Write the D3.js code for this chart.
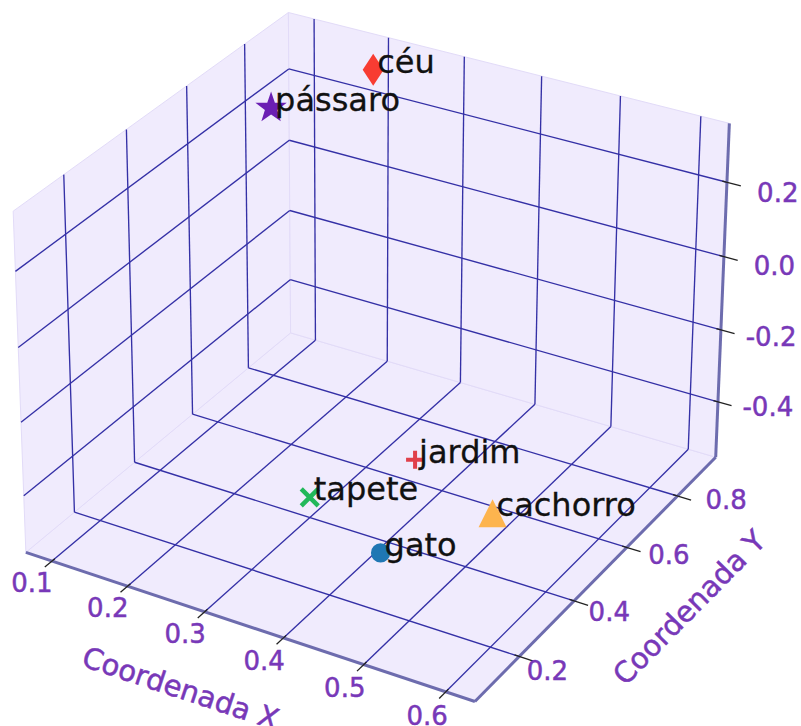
<!DOCTYPE html>
<html>
<head>
<meta charset="utf-8">
<script src="https://cdn.jsdelivr.net/npm/d3@7"></script>
<style>
  html, body { margin: 0; padding: 0; background: #ffffff; }
  svg { display: block; }
</style>
</head>
<body>
<svg id="chart" width="801" height="726"></svg>
<script>
// ---- data -------------------------------------------------------------
const words   = ["gato", "cachorro", "tapete", "jardim", "céu", "pássaro"];
const xValues = [0.5, 0.6, 0.3, 0.4, 0.2, 0.1];
const yValues = [0.1, 0.2, 0.4, 0.5, 0.9, 0.8];
const zValues = [-0.3, -0.2, -0.5, -0.4, 0.3, 0.2];
const markerShapes = ["circle", "triangle", "x", "plus", "thinDiamond", "star"];
const markerColors = ["#1f77b4", "#fdb44e", "#22b85a", "#e0404a", "#f83c32", "#6b1fb3"];

const xTicks = [0.1, 0.2, 0.3, 0.4, 0.5, 0.6];
const yTicks = [0.2, 0.4, 0.6, 0.8];
const zTicks = [-0.4, -0.2, 0.0, 0.2];
const xTickLabels = ["0.1", "0.2", "0.3", "0.4", "0.5", "0.6"];
const yTickLabels = ["0.2", "0.4", "0.6", "0.8"];
const zTickLabels = ["-0.4", "-0.2", "0.0", "0.2"];
const xAxisTitle = "Coordenada X";
const yAxisTitle = "Coordenada Y";

// ---- layout -----------------------------------------------------------
const PAD = 0.07;              // pane padding around the data range
const PURPLE = "#7838b8";
const GRID = "#3430a6";
const AXIS = "#6d6cae";
const PANE = "#f0ebfd";
const FONT = "'DejaVu Sans', 'Noto Sans', sans-serif";

// Where the box corners (in unit cube coordinates u,v,w) sit on the canvas.
const boxAnchors = [
  [0, 0, 0, 25, 553],
  [1, 0, 0, 475, 701],
  [1, 1, 0, 715, 458],
  [0, 1, 0, 292, 332],
  [0, 0, 1, 14, 211],
  [1, 1, 1, 730, 123],
  [0, 1, 1, 287, 13]
];

// Fit a perspective camera (3x4 projective matrix) to the box anchors.
function fitCamera(anchors) {
  const S = 400;
  const rows = [], rhs = [];
  anchors.forEach(([u, v, w, px, py]) => {
    const X = (px - S) / S, Y = (py - S) / S;
    rows.push([u, v, w, 1, 0, 0, 0, 0, -X * u, -X * v, -X * w]); rhs.push(X);
    rows.push([0, 0, 0, 0, u, v, w, 1, -Y * u, -Y * v, -Y * w]); rhs.push(Y);
  });
  const n = 11;
  const M = Array.from({ length: n }, () => new Array(n + 1).fill(0));
  rows.forEach((r, k) => {
    for (let i = 0; i < n; i++) {
      for (let j = 0; j < n; j++) M[i][j] += r[i] * r[j];
      M[i][n] += r[i] * rhs[k];
    }
  });
  for (let c = 0; c < n; c++) {
    let piv = c;
    for (let r = c + 1; r < n; r++) if (Math.abs(M[r][c]) > Math.abs(M[piv][c])) piv = r;
    [M[c], M[piv]] = [M[piv], M[c]];
    for (let r = 0; r < n; r++) {
      if (r === c) continue;
      const f = M[r][c] / M[c][c];
      for (let k = c; k <= n; k++) M[r][k] -= f * M[c][k];
    }
  }
  const p = M.map((row, i) => row[n] / row[i]);
  return (u, v, w) => {
    const d = p[8] * u + p[9] * v + p[10] * w + 1;
    return [
      S + S * (p[0] * u + p[1] * v + p[2] * w + p[3]) / d,
      S + S * (p[4] * u + p[5] * v + p[6] * w + p[7]) / d
    ];
  };
}
const project = fitCamera(boxAnchors);

function paneDomain(values) {
  const [lo, hi] = d3.extent(values);
  const r = hi - lo;
  return [lo - r * PAD, hi + r * PAD];
}
const sx = d3.scaleLinear().domain(paneDomain(xValues)).range([0, 1]);
const sy = d3.scaleLinear().domain(paneDomain(yValues)).range([0, 1]);
const sz = d3.scaleLinear().domain(paneDomain(zValues)).range([0, 1]);

const svg = d3.select("#chart");
const line = d3.line();
const seg = (a, b) => line([project(...a), project(...b)]);
const poly = pts => line(pts.map(p => project(...p))) + "Z";

// ---- panes ------------------------------------------------------------
const panes = [
  [[0, 0, 0], [1, 0, 0], [1, 1, 0], [0, 1, 0]],   // floor
  [[0, 0, 0], [0, 1, 0], [0, 1, 1], [0, 0, 1]],   // left wall
  [[0, 1, 0], [1, 1, 0], [1, 1, 1], [0, 1, 1]]    // back wall
];
svg.append("g").selectAll("path").data(panes).join("path")
  .attr("d", poly)
  .attr("fill", PANE)
  .attr("stroke", "#e2dbf8")
  .attr("stroke-width", 1);

// ---- grid -------------------------------------------------------------
const gridSegs = [];
xTicks.forEach(t => {
  const u = sx(t);
  gridSegs.push([[u, 0, 0], [u, 1, 0]]);
  gridSegs.push([[u, 1, 0], [u, 1, 1]]);
});
yTicks.forEach(t => {
  const v = sy(t);
  gridSegs.push([[0, v, 0], [1, v, 0]]);
  gridSegs.push([[0, v, 0], [0, v, 1]]);
});
zTicks.forEach(t => {
  const w = sz(t);
  gridSegs.push([[0, 0, w], [0, 1, w]]);
  gridSegs.push([[0, 1, w], [1, 1, w]]);
});
svg.append("g").selectAll("path").data(gridSegs).join("path")
  .attr("d", s => seg(s[0], s[1]))
  .attr("fill", "none")
  .attr("stroke", GRID)
  .attr("stroke-width", 1.35);

// ---- axis lines -------------------------------------------------------
const axisSegs = [
  [[0, 0, 0], [1, 0, 0]],
  [[1, 0, 0], [1, 1, 0]],
  [[1, 1, 0], [1, 1, 1]]
];
svg.append("g").selectAll("path").data(axisSegs).join("path")
  .attr("d", s => seg(s[0], s[1]))
  .attr("fill", "none")
  .attr("stroke", AXIS)
  .attr("stroke-width", 3)
  .attr("stroke-linecap", "butt");

// ---- ticks ------------------------------------------------------------
const tickG = svg.append("g").attr("stroke", "#222").attr("stroke-width", 1.3);
xTicks.forEach(t => tickG.append("path").attr("d", seg([sx(t), 0.01, 0], [sx(t), -0.025, 0])));
yTicks.forEach(t => tickG.append("path").attr("d", seg([0.99, sy(t), 0], [1.03, sy(t), 0])));
zTicks.forEach(t => tickG.append("path").attr("d", seg([0.99, 1, sz(t)], [1.03, 1, sz(t)])));

// ---- tick labels ------------------------------------------------------
const labelG = svg.append("g")
  .attr("fill", PURPLE)
  .attr("stroke", PURPLE)
  .attr("stroke-width", 0.5)
  .attr("font-family", FONT)
  .attr("font-size", 26)
  .attr("text-anchor", "middle")
  .attr("dominant-baseline", "central");

function putLabel(text, pos) {
  const [px, py] = project(...pos);
  labelG.append("text").attr("x", px).attr("y", py).text(text);
}
xTicks.forEach((t, i) => putLabel(xTickLabels[i], [sx(t), -0.07, -0.015]));
// y labels lean slightly outward and upward toward the back of the box
yTicks.forEach((t, i) => {
  const v = sy(t), lean = v - sy(yTicks[0]);
  putLabel(yTickLabels[i], [1.06 + 0.07 * lean, v, -0.015 + 0.073 * lean]);
});
zTicks.forEach((t, i) => putLabel(zTickLabels[i], [1.10, 1.02, 0.5 + (sz(t) - 0.5) * 0.97]));

// ---- axis titles ------------------------------------------------------
function axisTitle(text, pos, from, to) {
  const [px, py] = project(...pos);
  const a = project(...from), b = project(...to);
  const ang = Math.atan2(b[1] - a[1], b[0] - a[0]) * 180 / Math.PI;
  labelG.append("text")
    .attr("font-size", 29)
    .attr("transform", `translate(${px},${py}) rotate(${ang})`)
    .text(text);
}
axisTitle(xAxisTitle, [0.51, -0.24, 0], [0, 0, 0], [1, 0, 0]);
axisTitle(yAxisTitle, [1.19, 0.5, -0.018], [1, 0, 0], [1, 1, 0]);

// ---- markers ----------------------------------------------------------
function starPath(R, r) {
  const p = d3.path();
  for (let k = 0; k < 10; k++) {
    const rad = k % 2 === 0 ? R : r;
    const a = -Math.PI / 2 + k * Math.PI / 5;
    const x = rad * Math.cos(a), y = rad * Math.sin(a);
    k === 0 ? p.moveTo(x, y) : p.lineTo(x, y);
  }
  p.closePath();
  return p.toString();
}
const markerDefs = {
  circle:      { d: d3.symbol(d3.symbolCircle, 290)(), fill: true },
  triangle:    { d: "M0,-14L14,14L-14,14Z", fill: true },
  thinDiamond: { d: "M0,-16L10.5,0L0,16L-10.5,0Z", fill: true },
  star:        { d: starPath(16.5, 6.5), fill: true },
  x:           { d: "M-8.5,-8.5L8.5,8.5M-8.5,8.5L8.5,-8.5", fill: false, width: 4.5 },
  plus:        { d: "M-9,0L9,0M0,-9L0,9", fill: false, width: 4 }
};

const points = words.map((wd, i) => {
  const [px, py] = project(sx(xValues[i]), sy(yValues[i]), sz(zValues[i]));
  return { word: wd, px, py, shape: markerShapes[i], color: markerColors[i] };
});

const markG = svg.append("g");
points.forEach(p => {
  const def = markerDefs[p.shape];
  markG.append("path")
    .attr("transform", `translate(${p.px},${p.py})`)
    .attr("d", def.d)
    .attr("fill", def.fill ? p.color : "none")
    .attr("stroke", def.fill ? "none" : p.color)
    .attr("stroke-width", def.width || 0);
});

// ---- word labels ------------------------------------------------------
svg.append("g")
  .attr("font-family", FONT)
  .attr("font-size", 32)
  .attr("fill", "#111")
  .attr("stroke", "#111")
  .attr("stroke-width", 0.3)
  .selectAll("text").data(points).join("text")
  .attr("x", p => p.px + 4)
  .attr("y", p => p.py + 3)
  .text(p => p.word);
</script>
</body>
</html>
